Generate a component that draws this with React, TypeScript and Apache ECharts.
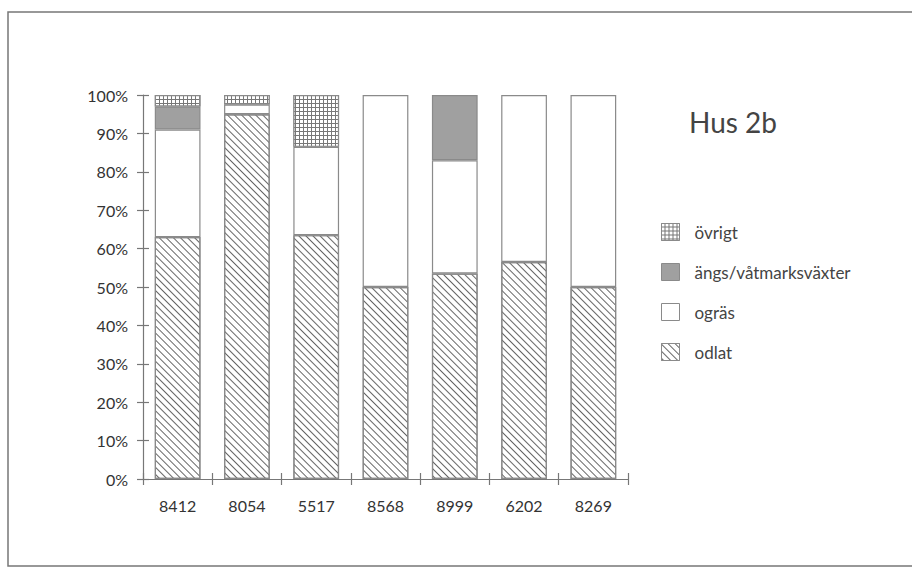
import React, { useEffect, useRef } from "react";
import * as echarts from "echarts";

const categories = ["8412", "8054", "5517", "8568", "8999", "6202", "8269"];
const odlat = [63, 95, 63.5, 50, 53.5, 56.5, 50];
const ogras = [28, 2.5, 23, 50, 29.5, 43.5, 50];
const angs = [6, null, null, null, 17, null, null];
const ovrigt = [3, 2.5, 13.5, null, null, null, null];
const legendOrder = ["övrigt", "ängs/våtmarksväxter", "ogräs", "odlat"];
const yTicks = [0, 10, 20, 30, 40, 50, 60, 70, 80, 90, 100];

const FONT = "Lato, 'Open Sans', sans-serif";
const BORDER = "#8a8a8a";
const AXIS = "#777";

export default function App() {
  const ref = useRef<HTMLDivElement>(null);
  useEffect(() => {
    if (!ref.current) return;
    const chart = echarts.init(ref.current, null, { renderer: "svg" });
    const barCommon = {
      type: "bar",
      stack: "total",
      barWidth: "66%",
      xAxisIndex: 0,
      yAxisIndex: 0,
    };
    const gridBox = { left: 143, right: 284, top: 95, bottom: 90, containLabel: false };
    chart.setOption({
      animation: false,
      backgroundColor: "#fff",
      textStyle: { fontFamily: FONT },
      title: {
        text: "Hus 2b",
        left: 684,
        top: 103,
        textStyle: { fontFamily: FONT, fontSize: 28, fontWeight: "normal", color: "#444" },
      },
      legend: {
        orient: "vertical",
        left: 656,
        top: 218,
        icon: "rect",
        itemWidth: 18,
        itemHeight: 17,
        itemGap: 22,
        data: legendOrder,
        textStyle: { fontFamily: FONT, fontSize: 17, color: "#444", lineHeight: 17, padding: [0, 0, 0, 10] },
        itemStyle: { borderColor: BORDER, borderWidth: 1 },
      },
      graphic: [
        {
          type: "rect",
          shape: { x: 8, y: 12, width: 920, height: 554 },
          style: { fill: "none", stroke: "#777", lineWidth: 1.5 },
          silent: true,
        },
      ],
      grid: [gridBox, { ...gridBox }],
      xAxis: [
        {
          type: "category",
          gridIndex: 0,
          data: categories,
          axisLine: { show: true, lineStyle: { color: AXIS, width: 1.2 } },
          axisTick: { show: true, length: 6, lineStyle: { color: AXIS, width: 1.2 } },
          axisLabel: { color: "#333", fontSize: 16, fontFamily: FONT, margin: 18 },
        },
        {
          type: "category",
          gridIndex: 1,
          data: categories,
          position: "bottom",
          axisLine: { show: false },
          axisTick: { show: true, inside: true, length: 6, lineStyle: { color: AXIS, width: 1.2 } },
          axisLabel: { show: false },
        },
      ],
      yAxis: [
        {
          type: "value",
          gridIndex: 0,
          min: 0,
          max: 100,
          interval: 10,
          splitLine: { show: false },
          axisLine: { show: true, lineStyle: { color: AXIS, width: 1.2 } },
          axisTick: { show: true, length: 6, lineStyle: { color: AXIS, width: 1.2 } },
          axisLabel: {
            color: "#333",
            fontSize: 16,
            fontFamily: FONT,
            margin: 15,
            formatter: (v: number) => (yTicks.includes(v) ? v + "%" : ""),
          },
        },
        {
          type: "value",
          gridIndex: 1,
          min: 0,
          max: 100,
          interval: 10,
          position: "left",
          splitLine: { show: false },
          axisLine: { show: false },
          axisTick: { show: true, inside: true, length: 6, lineStyle: { color: AXIS, width: 1.2 } },
          axisLabel: { show: false },
        },
      ],
      series: [
        {
          ...barCommon,
          name: "odlat",
          data: odlat,
          itemStyle: {
            color: "#fff",
            borderColor: BORDER,
            borderWidth: 1.2,
            decal: {
              symbol: "rect",
              symbolSize: 1,
              color: "#666",
              dashArrayX: [1, 0],
              dashArrayY: [1, 4],
              rotation: Math.PI / 4,
            },
          },
        },
        {
          ...barCommon,
          name: "ogräs",
          data: ogras,
          itemStyle: { color: "#fff", borderColor: BORDER, borderWidth: 1.2 },
        },
        {
          ...barCommon,
          name: "ängs/våtmarksväxter",
          data: angs,
          itemStyle: { color: "#a0a0a0", borderColor: BORDER, borderWidth: 1.2 },
        },
        {
          ...barCommon,
          name: "övrigt",
          data: ovrigt,
          itemStyle: {
            color: "#777",
            borderColor: BORDER,
            borderWidth: 1.2,
            decal: {
              symbol: "rect",
              symbolSize: 1,
              color: "#fff",
              dashArrayX: [3, 1],
              dashArrayY: [3, 1],
              rotation: 0,
            },
          },
        },
      ],
    });
    return () => chart.dispose();
  }, []);
  return (
    <div
      ref={ref}
      style={{ position: "fixed", left: 0, top: 0, width: 912, height: 569 }}
    />
  );
}
